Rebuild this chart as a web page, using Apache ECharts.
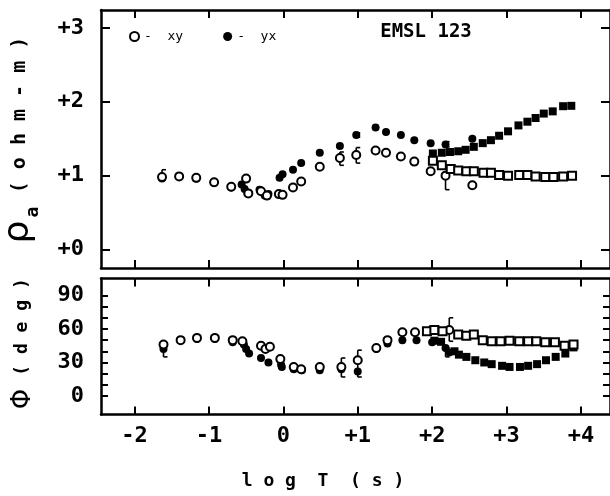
<!DOCTYPE html>
<html><head><meta charset="utf-8">
<script src="https://cdn.jsdelivr.net/npm/echarts@6/dist/echarts.min.js"></script>
<style>html,body{margin:0;padding:0;background:#fff}#c{width:610px;height:496px}</style>
</head><body><div id="c"></div>
<script>
// ---- tick labels ----
const xTicks = [-2, -1, 0, 1, 2, 3, 4];
const rhoTicks = [0, 1, 2, 3];
const phaseTicks = [0, 10, 20, 30, 40, 50, 60, 70, 80, 90];
const phaseLabels = [0, 30, 60, 90];

// ---- apparent resistivity, log10(ohm-m) vs log10 T ----
const rhoXYcirc = [[-1.63,0.98],[-1.40,0.99],[-1.17,0.97],[-0.93,0.91],[-0.70,0.85],[-0.50,0.96],[-0.47,0.76],[-0.30,0.79],[-0.22,0.73],[-0.06,0.75],[-0.01,0.74],[0.13,0.84],[0.24,0.92],[0.49,1.12],[0.76,1.24],[0.98,1.28],[1.24,1.34],[1.38,1.31],[1.58,1.26],[1.76,1.19],[1.98,1.06],[2.18,1.00],[2.54,0.87]];
const rhoYXcirc = [[-1.63,0.96],[-1.40,0.99],[-1.17,0.96],[-0.93,0.90],[-0.70,0.84],[-0.56,0.88],[-0.52,0.82],[-0.48,0.76],[-0.32,0.81],[-0.25,0.73],[-0.20,0.75],[-0.05,0.97],[-0.01,1.02],[0.13,1.08],[0.24,1.17],[0.49,1.31],[0.76,1.40],[0.98,1.55],[1.24,1.65],[1.38,1.59],[1.58,1.55],[1.76,1.48],[1.98,1.44],[2.18,1.42],[2.54,1.50]];
const rhoXYsq = [[2.01,1.20],[2.13,1.14],[2.25,1.09],[2.35,1.07],[2.46,1.06],[2.56,1.06],[2.69,1.04],[2.79,1.04],[2.90,1.01],[3.02,1.00],[3.17,1.01],[3.28,1.01],[3.39,0.99],[3.52,0.98],[3.63,0.98],[3.76,0.99],[3.88,1.00]];
const rhoYXsq = [[2.01,1.30],[2.13,1.31],[2.24,1.32],[2.35,1.33],[2.45,1.35],[2.56,1.39],[2.68,1.44],[2.79,1.48],[2.90,1.54],[3.02,1.60],[3.16,1.68],[3.28,1.73],[3.39,1.78],[3.50,1.84],[3.62,1.87],[3.76,1.94],[3.87,1.945]];
const rhoErr = [[-1.63,0.97,1.08],[0.76,1.14,1.32],[0.98,1.17,1.38],[0.98,1.52,1.58],[2.18,0.81,1.02],[2.18,1.39,1.46]];

// ---- phase, degrees ----
const phXYcirc = [[-1.61,46],[-1.38,50],[-1.16,52],[-0.92,52],[-0.68,50],[-0.55,49],[-0.30,45],[-0.24,42],[-0.18,44],[-0.04,33],[0.14,26],[0.24,24],[0.49,26],[0.78,26],[1.00,32],[1.25,43],[1.40,50],[1.60,57],[1.77,57],[2.00,59],[2.23,59]];
const phYXcirc = [[-1.61,42],[-1.38,50],[-1.16,51],[-0.92,51],[-0.68,48],[-0.53,46],[-0.50,42],[-0.46,38],[-0.30,34],[-0.20,30],[-0.03,28],[-0.02,26],[0.14,24],[0.25,23],[0.49,23],[0.78,24],[1.00,22],[1.25,42],[1.40,47],[1.60,50],[1.79,50],[2.00,48],[2.18,43],[2.23,39]];
const phXYsq = [[1.93,58],[2.03,59],[2.14,58],[2.35,55],[2.46,54],[2.56,55],[2.68,50],[2.80,49],[2.92,49],[3.04,49.5],[3.17,49],[3.29,49],[3.40,49],[3.52,48],[3.65,48],[3.78,45],[3.90,46]];
const phYXsq = [[2.03,49.5],[2.12,48.5],[2.30,40],[2.36,37],[2.46,35],[2.58,32],[2.70,30],[2.80,28.5],[2.94,27],[3.04,26],[3.18,26],[3.29,27],[3.41,28.5],[3.53,32],[3.66,35],[3.79,38],[3.90,43.5]];
const phErr = [[-1.61,35,46],[0.78,17,34],[1.00,17,41],[2.23,49,70],[2.18,35,43]];

const FONT = 'DejaVu Sans Mono';
const chart = echarts.init(document.getElementById('c'), null, {renderer: 'canvas'});

const axLine = {show: true, onZero: false, lineStyle: {color: '#000', width: 2.5}};
function xAx(grid, pos, labels) {
  return {
    type: 'value', gridIndex: grid, position: pos, min: -2.45, max: 4.39,
    axisLine: axLine, splitLine: {show: false},
    axisTick: {show: true, inside: true, length: 8, lineStyle: {color: '#000', width: 2}, customValues: xTicks},
    axisLabel: labels ? {show: true, customValues: xTicks, margin: 11, color: '#000', fontFamily: FONT, fontWeight: 'bold', fontSize: 22,
      formatter: v => v > 0 ? '+' + v : String(v)} : {show: false}
  };
}
function yAx(grid, pos, min, max, ticks, labels, labelVals, fmt, tickLen) {
  return {
    type: 'value', gridIndex: grid, position: pos, min: min, max: max,
    axisLine: axLine, splitLine: {show: false},
    axisTick: {show: true, inside: true, length: tickLen, lineStyle: {color: '#000', width: 2}, customValues: ticks},
    axisLabel: labels ? {show: true, customValues: labelVals, margin: 17, color: '#000', fontFamily: FONT, fontWeight: 'bold', fontSize: 22, formatter: fmt} : {show: false}
  };
}

const open = {color: '#fff', borderColor: '#000', borderWidth: 2, opacity: 1};
const fill = {color: '#000', opacity: 1};
function sc(name, data, xi, yi, symbol, style, size) {
  return {name: name, type: 'scatter', xAxisIndex: xi, yAxisIndex: yi, data: data, symbol: symbol,
    symbolSize: size, itemStyle: style, silent: true, z: name === 'xy' ? 4 : 3};
}
function errRender(params, api) {
  const x = api.value(0);
  const p1 = api.coord([x, api.value(1)]);
  const p2 = api.coord([x, api.value(2)]);
  const st = {stroke: '#000', lineWidth: 1.6};
  return {type: 'group', children: [
    {type: 'line', shape: {x1: p1[0], y1: p1[1], x2: p2[0], y2: p2[1]}, style: st},
    {type: 'line', shape: {x1: p1[0], y1: p1[1], x2: p1[0] + 4, y2: p1[1]}, style: st},
    {type: 'line', shape: {x1: p2[0], y1: p2[1], x2: p2[0] + 4, y2: p2[1]}, style: st}
  ]};
}

chart.setOption({
  animation: false,
  backgroundColor: '#fff',
  grid: [
    {left: 101, top: 10, width: 510, height: 258},
    {left: 101, top: 278.5, width: 510, height: 136}
  ],
  xAxis: [xAx(0, 'bottom', false), xAx(0, 'top', false), xAx(1, 'bottom', true), xAx(1, 'top', false)],
  yAxis: [
    yAx(0, 'left', -0.25, 3.242, rhoTicks, true, rhoTicks, v => '+' + v, 9),
    yAx(0, 'right', -0.25, 3.242, rhoTicks, false, null, null, 9),
    yAx(1, 'left', -16.6, 105.2, phaseTicks, true, phaseLabels, v => String(v), 7),
    yAx(1, 'right', -16.6, 105.2, phaseTicks, false, null, null, 7)
  ],
  legend: {
    left: 124, top: 25, itemWidth: 9, itemHeight: 9, itemGap: 40,
    data: [{name: 'xy', icon: 'circle', itemStyle: open}, {name: 'yx', icon: 'circle', itemStyle: fill}],
    formatter: n => '-  ' + n,
    textStyle: {fontFamily: FONT, fontSize: 13, color: '#000'}
  },
  graphic: [
    {type: 'text', x: 426, y: 32, style: {text: 'EMSL 123', font: 'bold 19px "DejaVu Sans Mono"', fill: '#000', textAlign: 'center', textVerticalAlign: 'middle'}},
    {type: 'text', x: 19, y: 232, rotation: Math.PI / 2, style: {text: 'ρ', font: '36px "DejaVu Sans"', fill: '#000', textAlign: 'center', textVerticalAlign: 'middle'}},
    {type: 'text', x: 33, y: 212, rotation: Math.PI / 2, style: {text: 'a', font: 'bold 18px "DejaVu Sans Mono"', fill: '#000', textAlign: 'center', textVerticalAlign: 'middle'}},
    {type: 'text', x: 20, y: 115, rotation: Math.PI / 2, style: {text: '( o h m - m )', font: 'bold 20px "DejaVu Sans Mono"', fill: '#000', textAlign: 'center', textVerticalAlign: 'middle'}},
    {type: 'text', x: 23, y: 399, rotation: Math.PI / 2, style: {text: 'Φ', font: '26px "DejaVu Sans"', fill: '#000', textAlign: 'center', textVerticalAlign: 'middle'}},
    {type: 'text', x: 22, y: 327, rotation: Math.PI / 2, style: {text: '( d e g )', font: 'bold 18px "DejaVu Sans Mono"', fill: '#000', textAlign: 'center', textVerticalAlign: 'middle'}},
    {type: 'text', x: 323, y: 481, style: {text: 'l o g  T  ( s )', font: 'bold 18px "DejaVu Sans Mono"', fill: '#000', textAlign: 'center', textVerticalAlign: 'middle'}}
  ],
  series: [
    {type: 'custom', xAxisIndex: 0, yAxisIndex: 0, renderItem: errRender, data: rhoErr, silent: true, z: 2},
    {type: 'custom', xAxisIndex: 2, yAxisIndex: 2, renderItem: errRender, data: phErr, silent: true, z: 2},
    sc('yx', rhoYXcirc, 0, 0, 'circle', fill, 8),
    sc('xy', rhoXYcirc, 0, 0, 'circle', open, 8),
    sc('yx', rhoYXsq, 0, 0, 'rect', fill, 8),
    sc('xy', rhoXYsq, 0, 0, 'rect', open, 8),
    sc('yx', phYXcirc, 2, 2, 'circle', fill, 8),
    sc('xy', phXYcirc, 2, 2, 'circle', open, 8),
    sc('yx', phYXsq, 2, 2, 'rect', fill, 8),
    sc('xy', phXYsq, 2, 2, 'rect', open, 8)
  ]
});
</script></body></html>
